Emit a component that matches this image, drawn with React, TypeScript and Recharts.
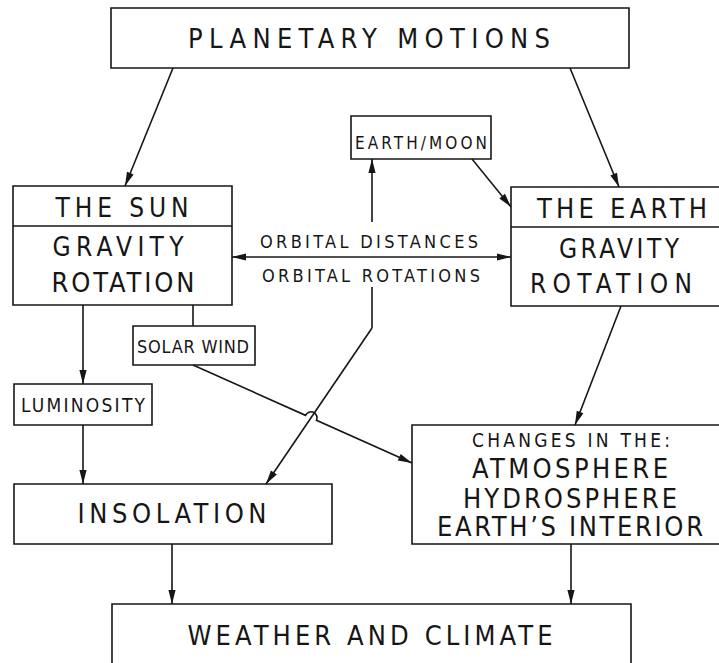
import React from "react";
import {
  ReferenceArea,
  ReferenceLine,
  Scatter,
  ScatterChart,
  XAxis,
  YAxis,
} from "recharts";

const W = 719;
const H = 663;
const INK = "#161616";
const FONT = "'DejaVu Sans Condensed', 'DejaVu Sans', sans-serif";

// boxes of the flow diagram, in picture units
const boxes = [
  { id: "planetary", x1: 111, y1: 8, x2: 629, y2: 68 },
  { id: "earthMoon", x1: 351, y1: 116, x2: 491, y2: 159 },
  { id: "sun", x1: 13, y1: 186, x2: 232, y2: 305 },
  { id: "earth", x1: 511, y1: 187, x2: 723, y2: 306 },
  { id: "solarWind", x1: 133, y1: 326, x2: 255, y2: 365 },
  { id: "luminosity", x1: 14, y1: 384, x2: 152, y2: 425 },
  { id: "insolation", x1: 14, y1: 484, x2: 332, y2: 544 },
  { id: "changes", x1: 412, y1: 425, x2: 723, y2: 544 },
  { id: "weather", x1: 112, y1: 604, x2: 631, y2: 666 },
];

// connectors: head = "end" | "both" | "none"
const links = [
  { from: [13, 226], to: [232, 226], head: "none" },
  { from: [511, 227], to: [723, 227], head: "none" },
  { from: [173, 68], to: [125, 186], head: "end" },
  { from: [570, 68], to: [619, 187], head: "end" },
  { from: [372, 222], to: [372, 159], head: "end" },
  { from: [472, 159], to: [511, 207], head: "end" },
  { from: [232, 257], to: [511, 257], head: "both" },
  { from: [83, 305], to: [83, 384], head: "end" },
  { from: [193, 305], to: [193, 326], head: "none" },
  { from: [83, 425], to: [83, 484], head: "end" },
  { from: [372, 287], to: [372, 328], head: "none" },
  { from: [372, 328], to: [266, 484], head: "end" },
  { from: [621, 306], to: [575, 425], head: "end" },
  { from: [172, 544], to: [172, 604], head: "end" },
  { from: [571, 544], to: [571, 604], head: "end" },
];

// solar wind line hops over the orbital diagonal
const solarWind = { from: [193, 365], to: [412, 463] };
const crossed = { from: [372, 328], to: [266, 484] };

// text labels: baseline position, font size, drawn width
const labels = [
  { x: 369, y: 48, text: "PLANETARY MOTIONS", size: 27, width: 362 },
  { x: 421, y: 149, text: "EARTH/MOON", size: 17, width: 132 },
  { x: 122, y: 217, text: "THE SUN", size: 26, width: 133 },
  { x: 118, y: 256, text: "GRAVITY", size: 26, width: 131 },
  { x: 123, y: 292, text: "ROTATION", size: 27, width: 143 },
  { x: 622, y: 218, text: "THE EARTH", size: 27, width: 170 },
  { x: 619, y: 258, text: "GRAVITY", size: 26, width: 120 },
  { x: 611, y: 293, text: "ROTATION", size: 26, width: 162 },
  { x: 369, y: 248, text: "ORBITAL DISTANCES", size: 18, width: 218 },
  { x: 371, y: 282, text: "ORBITAL ROTATIONS", size: 18, width: 218 },
  { x: 193, y: 353, text: "SOLAR WIND", size: 18, width: 112 },
  { x: 83, y: 412, text: "LUMINOSITY", size: 19, width: 124 },
  { x: 571, y: 447, text: "CHANGES IN THE:", size: 19, width: 198 },
  { x: 570, y: 478, text: "ATMOSPHERE", size: 27, width: 196 },
  { x: 570, y: 508, text: "HYDROSPHERE", size: 27, width: 214 },
  { x: 570, y: 536, text: "EARTH\u2019S INTERIOR", size: 27, width: 266 },
  { x: 172, y: 523, text: "INSOLATION", size: 27, width: 189 },
  { x: 370, y: 645, text: "WEATHER AND CLIMATE", size: 27, width: 365 },
];

const HEAD_LEN = 14;
const HEAD_HALF = 3.6;

function headPoints(tx: number, ty: number, fx: number, fy: number) {
  const dx = tx - fx;
  const dy = ty - fy;
  const len = Math.hypot(dx, dy) || 1;
  const ux = dx / len;
  const uy = dy / len;
  const bx = tx - ux * HEAD_LEN;
  const by = ty - uy * HEAD_LEN;
  return `${tx},${ty} ${bx - uy * HEAD_HALF},${by + ux * HEAD_HALF} ${bx + uy * HEAD_HALF},${by - ux * HEAD_HALF}`;
}

function arrowShape(head: string) {
  return (p: any) => {
    const { x1, y1, x2, y2 } = p;
    return (
      <g>
        <line x1={x1} y1={y1} x2={x2} y2={y2} stroke={INK} strokeWidth={1.6} />
        {head !== "none" && (
          <polygon points={headPoints(x2, y2, x1, y1)} fill={INK} />
        )}
        {head === "both" && (
          <polygon points={headPoints(x1, y1, x2, y2)} fill={INK} />
        )}
      </g>
    );
  };
}

// where along the solar wind line it meets the diagonal (0..1)
function crossingT() {
  const [ax, ay] = solarWind.from;
  const [bx, by] = solarWind.to;
  const [cx, cy] = crossed.from;
  const [dx, dy] = crossed.to;
  const rx = bx - ax;
  const ry = by - ay;
  const sx = dx - cx;
  const sy = dy - cy;
  const den = rx * sy - ry * sx;
  return ((cx - ax) * sy - (cy - ay) * sx) / den;
}

function hopShape(p: any) {
  const { x1, y1, x2, y2 } = p;
  const t = crossingT();
  const len = Math.hypot(x2 - x1, y2 - y1);
  const ux = (x2 - x1) / len;
  const uy = (y2 - y1) / len;
  const cx = x1 + (x2 - x1) * t;
  const cy = y1 + (y2 - y1) * t;
  const r = 6;
  const d = `M${x1},${y1} L${cx - ux * r},${cy - uy * r} A${r},${r} 0 0 1 ${cx + ux * r},${cy + uy * r} L${x2},${y2}`;
  return (
    <g>
      <path d={d} fill="none" stroke={INK} strokeWidth={1.6} />
      <polygon points={headPoints(x2, y2, x1, y1)} fill={INK} />
    </g>
  );
}

function LabelText(props: any) {
  const { cx, cy, payload } = props;
  return (
    <text
      x={cx}
      y={cy}
      textAnchor="middle"
      fontFamily={FONT}
      fontSize={payload.size}
      textLength={payload.width}
      lengthAdjust="spacing"
      fill={INK}
    >
      {payload.text}
    </text>
  );
}

export default function App() {
  return (
    <div style={{ position: "absolute", left: 0, top: 0, background: "#fff" }}>
      <ScatterChart
        width={W}
        height={H}
        margin={{ top: 0, right: 0, bottom: 0, left: 0 }}
      >
        <XAxis type="number" dataKey="x" domain={[0, W]} allowDataOverflow hide />
        <YAxis
          type="number"
          dataKey="y"
          domain={[0, H]}
          allowDataOverflow
          reversed
          hide
        />
        {boxes.map((b) => (
          <ReferenceArea
            key={b.id}
            x1={b.x1}
            x2={b.x2}
            y1={b.y1}
            y2={b.y2}
            ifOverflow="visible"
            fill="#fff"
            fillOpacity={1}
            stroke={INK}
            strokeWidth={1.6}
          />
        ))}
        {links.map((l, i) => (
          <ReferenceLine
            key={`link-${i}`}
            segment={[
              { x: l.from[0], y: l.from[1] },
              { x: l.to[0], y: l.to[1] },
            ]}
            ifOverflow="visible"
            shape={arrowShape(l.head)}
          />
        ))}
        <ReferenceLine
          segment={[
            { x: solarWind.from[0], y: solarWind.from[1] },
            { x: solarWind.to[0], y: solarWind.to[1] },
          ]}
          ifOverflow="visible"
          shape={hopShape}
        />
        <Scatter
          data={labels}
          isAnimationActive={false}
          shape={<LabelText />}
        />
      </ScatterChart>
    </div>
  );
}
